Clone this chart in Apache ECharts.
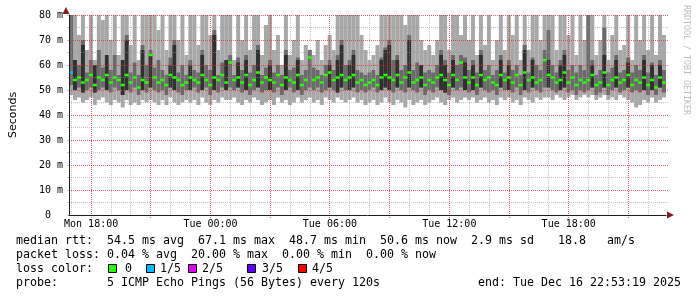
<!DOCTYPE html>
<html><head><meta charset="utf-8">
<script src="https://cdn.jsdelivr.net/npm/echarts@6/dist/echarts.min.js"></script>
<style>html,body{margin:0;padding:0;background:#fff}#c{width:697px;height:297px}</style>
</head><body><div id="c"></div>
<script>
// smoke: min ping, 2nd ping, 4th ping, max ping, dark core top (0 = none), median, loss (pings lost of 5)
const lo = [48,46,47,45,46,47,44,46,47,45, 44,46,45,43,46,44,45,44,46,45, 46,45,44,46,44,47,45,44,45,46, 45,46,44,47,45,44,46,45,47,46,
            46,47,45,44,46,45,47,46,44,45, 46,44,47,45,46,44,45,47,45,46, 47,45,46,44,47,46,45,47,46,45, 46,47,45,46,44,45,46,44,45,47,
            45,44,46,45,43,46,44,45,46,44, 45,46,47,45,44,46,47,45,46,47, 46,47,45,46,47,45,46,44,47,46, 47,45,46,44,47,46,45,47,46,47,
            47,46,48,47,46,47,48,46,47,48, 47,48,46,47,48,46,47,46,48,47, 46,45,43,44,46,45,47,45,46,47];
const p2 = [52,50,51,49,50,51,49,50,51,50, 49,51,50,48,50,49,51,48,50,49, 51,50,49,50,48,51,50,49,48,50, 50,51,49,50,51,48,50,49,51,50,
            51,50,51,49,50,48,50,51,49,50, 50,49,51,48,50,51,49,50,48,50, 51,50,51,49,50,51,50,49,51,50, 50,51,49,50,49,50,51,49,50,51,
            50,49,51,50,49,51,50,49,51,48, 50,49,51,50,49,48,51,50,51,50, 49,50,48,51,50,49,50,48,51,50, 50,49,51,48,50,49,51,50,49,51,
            51,50,49,50,51,49,50,48,50,49, 50,51,48,49,51,48,50,51,49,50, 51,49,50,49,50,48,50,48,51,49];
const p4 = [80,58,60,70,57,62,56,66,59,61, 58,64,56,60,72,57,61,56,68,60, 66,59,62,58,56,63,70,57,60,56, 62,58,57,66,60,58,74,56,61,59,
            64,56,63,58,64,57,60,68,56,59, 62,57,60,56,66,58,59,63,56,58, 66,59,58,56,60,62,58,64,70,60, 62,66,58,57,56,57,58,56,63,67,
            70,62,64,58,60,72,58,61,60,57, 58,57,60,66,62,57,64,60,64,63, 58,62,57,66,58,60,56,58,64,57, 62,58,60,56,68,57,63,60,58,66,
            74,60,57,62,66,58,60,57,60,58, 80,62,56,58,75,57,59,64,57,58, 63,57,60,58,64,57,61,56,62,58];
const hi = [80,80,72,80,66,80,62,80,78,80, 70,80,64,80,80,68,80,62,80,80, 80,80,74,80,66,80,80,70,80,64, 80,80,68,80,80,72,80,66,80,80,
            80,62,80,70,80,66,80,80,64,76, 80,66,72,60,80,64,70,80,62,68, 66,64,70,62,68,72,66,80,80,80, 80,80,80,72,66,62,64,68,80,80,
            80,80,80,80,76,80,80,80,70,66, 68,64,70,80,80,66,80,80,72,80, 70,80,64,80,68,80,62,70,80,66, 80,72,80,62,80,66,80,80,70,80,
            80,80,66,80,80,72,80,64,80,70, 80,80,64,70,80,62,72,80,66,68, 80,62,80,70,80,66,80,64,80,72];
const dk = [0,62,0,68,0,0,60,0,0,64, 0,0,0,62,70,0,0,0,66,0, 64,0,0,0,0,60,68,0,0,0, 60,0,0,64,0,0,72,0,0,62,
            0,0,61,0,62,0,0,66,0,0, 60,0,0,0,64,0,0,62,0,0, 0,0,0,0,0,60,0,62,68,0, 60,64,0,0,0,0,0,0,62,66,
            68,0,62,0,0,70,0,0,60,0, 0,0,0,64,60,0,62,0,0,61, 0,60,0,64,0,0,0,0,62,0, 60,0,0,0,66,0,62,0,0,0,
            62,0,0,60,64,0,0,0,0,0, 0,60,0,0,64,0,0,62,0,0, 61,0,0,0,62,0,60,0,60,0];
const med = [57,54,55,53,54,56,52,55,54,56, 53,55,54,52,56,53,55,51,54,53, 64,55,53,54,52,56,55,54,52,53, 55,54,53,56,54,52,55,54,56,53,
             61,54,55,53,56,52,54,57,53,55, 54,53,56,52,55,54,53,56,52,54, 63,54,55,53,56,57,54,55,56,54, 55,56,53,54,52,53,54,52,55,56,
             55,54,56,53,55,57,53,54,55,52, 54,53,55,56,54,52,56,54,61,55, 53,55,52,56,54,55,53,52,56,54, 55,53,56,52,57,54,55,53,54,62,
             56,55,53,54,57,53,55,52,54,53, 54,56,52,53,57,52,54,55,53,54, 56,52,54,53,55,52,54,51,55,53];
const loss = [1,0,0,0,0,0,0,0,0,0, 0,0,0,0,0,0,0,0,0,0, 0,0,0,0,0,0,0,0,0,0, 0,0,0,0,0,0,0,0,0,0,
              0,0,0,0,0,0,0,0,0,0, 0,0,0,0,0,0,0,0,0,0, 0,0,0,0,0,0,0,0,0,0, 0,0,0,0,0,0,0,0,0,0,
              0,0,0,0,0,0,0,0,0,0, 0,0,0,0,0,0,0,0,0,0, 0,0,0,0,0,0,0,0,0,0, 0,0,0,0,0,0,0,0,0,0,
              0,0,0,0,0,0,0,0,0,0, 0,0,0,0,0,0,0,0,0,0, 0,0,0,0,0,0,0,0,0,0];

const xLabelHours = [18, 24, 30, 36, 42];
const xLabels = ['Mon 18:00', 'Tue 00:00', 'Tue 06:00', 'Tue 12:00', 'Tue 18:00'];
const majorHours = [18, 21, 24, 27, 30, 33, 36, 39, 42, 45];
const minorHours = [17, 19, 20, 22, 23, 25, 26, 28, 29, 31, 32, 34, 35, 37, 38, 40, 41, 43, 44, 46];
const yMajor = [10, 20, 30, 40, 50, 60, 70, 80];
const yMinor = [5, 15, 25, 35, 45, 55, 65, 75];
const lossColors = ['#26ff00', '#00b8ff', '#dd00ff', '#5e00ff', '#ff0000'];
const lossLabels = ['0', '1/5', '2/5', '3/5', '4/5'];

const T0 = 16 + 53 / 60 + 19 / 3600;   // Mon 16:53:19, hours
const SPAN = 30;
const STEP = SPAN / hi.length;

const smokeData = hi.map((h, i) => [T0 + (i + 0.5) * STEP, lo[i], p2[i], p4[i], h, dk[i]]);
const medData = med.map((m, i) => [T0 + (i + 0.5) * STEP, m, loss[i]]);

const MONO = '"DejaVu Sans Mono", monospace';
const RED = 'rgba(225,45,45,0.75)';
const GREY = 'rgba(150,150,150,0.55)';
const AXIS = '#1f1f1f';
const ARROW = '#801f1f';

function smokeItem(params, api) {
  const t = api.value(0);
  const xl = api.coord([t - STEP / 2, 0])[0];
  const xr = api.coord([t + STEP / 2, 0])[0];
  const y = v => api.coord([t, v])[1];
  const band = (a, b, fill) => ({ type: 'rect', shape: { x: xl, y: y(b), width: xr - xl, height: y(a) - y(b) }, style: { fill } });
  const ch = [band(api.value(1), api.value(4), '#a8a8a8'), band(api.value(2), api.value(3), '#6a6a6a')];
  if (api.value(5) > 0) ch.push(band(api.value(2), api.value(5), '#303030'));
  return { type: 'group', children: ch };
}
function medItem(params, api) {
  const t = api.value(0), m = api.value(1);
  const xl = api.coord([t - STEP / 2, 0])[0];
  const xr = api.coord([t + STEP / 2, 0])[0];
  const yt = api.coord([t, m + 0.5])[1], yb = api.coord([t, m - 0.5])[1];
  return { type: 'rect', shape: { x: xl, y: yt, width: xr - xl, height: yb - yt }, style: { fill: lossColors[api.value(2)] } };
}
const hGrid = color => (params, api) => {
  const cs = params.coordSys;
  const y = Math.floor(api.coord([T0, api.value(0)])[1]) + 0.5;
  return { type: 'line', shape: { x1: cs.x, y1: y, x2: cs.x + cs.width + 2, y2: y },
           style: { stroke: color, lineWidth: 1, lineDash: [1, 1] } };
};
const vGrid = (color, ext) => (params, api) => {
  const cs = params.coordSys;
  const x = Math.floor(api.coord([api.value(0), 0])[0]) + 0.5;
  return { type: 'line', shape: { x1: x, y1: cs.y, x2: x, y2: cs.y + cs.height + ext },
           style: { stroke: color, lineWidth: 1, lineDash: [1, 1] } };
};

const textLine = (x, y, s) => ({ type: 'text', x, y, style: { text: s, font: '11.63px ' + MONO, fill: '#000', verticalAlign: 'middle', align: 'left' } });
const swX = [108, 146, 188, 247, 298];
const swLabelX = [125, 160, 202, 262, 312];
const graphics = [
  textLine(16, 241, 'median rtt:  54.5 ms avg  67.1 ms max  48.7 ms min  50.6 ms now  2.9 ms sd'),
  textLine(558, 241, '18.8   am/s'),
  textLine(16, 255, 'packet loss: 0.04 % avg  20.00 % max  0.00 % min  0.00 % now'),
  textLine(16, 269, 'loss color:'),
  textLine(16, 283, 'probe:       5 ICMP Echo Pings (56 Bytes) every 120s'),
  textLine(478, 283, 'end: Tue Dec 16 22:53:19 2025'),
  { type: 'text', x: 686, y: 5, rotation: -Math.PI / 2,
    style: { text: 'RRDTOOL / TOBI OETIKER', font: '8.3px ' + MONO, fill: '#bdbdbd', align: 'left', verticalAlign: 'middle' } },
  { type: 'polygon', shape: { points: [[667, 211.5], [667, 218.5], [674, 215]] }, style: { fill: ARROW }, z: 100 },
  { type: 'polygon', shape: { points: [[62.5, 14], [69.5, 14], [66, 7]] }, style: { fill: ARROW }, z: 100 }
];
lossLabels.forEach((lab, k) => {
  graphics.push({ type: 'rect', shape: { x: swX[k] + 0.5, y: 264.5, width: 8, height: 8 }, style: { fill: lossColors[k], stroke: '#000', lineWidth: 1 } });
  graphics.push(textLine(swLabelX[k], 269, lab));
});

const chart = echarts.init(document.getElementById('c'), null, { renderer: 'canvas' });
chart.setOption({
  animation: false,
  backgroundColor: '#fff',
  grid: { left: 66, top: 15, width: 600, height: 200, containLabel: false },
  xAxis: {
    type: 'value', min: T0, max: T0 + SPAN, z: 8,
    axisLine: { show: true, lineStyle: { color: AXIS, width: 1 } },
    axisTick: { show: false },
    axisLabel: { show: true, customValues: xLabelHours, margin: 4, fontFamily: MONO, fontSize: 10, color: '#000',
      formatter: v => xLabels[xLabelHours.indexOf(Math.round(v))] || '' },
    splitLine: { show: false }
  },
  yAxis: {
    type: 'value', min: 0, max: 80, interval: 10, z: 8,
    name: 'Seconds', nameLocation: 'middle', nameGap: 50, nameRotate: 90,
    nameTextStyle: { fontFamily: '"DejaVu Sans", sans-serif', fontSize: 11, color: '#000' },
    axisLine: { show: true, lineStyle: { color: AXIS, width: 1 } },
    axisTick: { show: true, length: 2, lineStyle: { color: GREY } },
    minorTick: { show: true, splitNumber: 2, length: 2, lineStyle: { color: GREY } },
    axisLabel: { margin: 6, fontFamily: MONO, fontSize: 10, color: '#000', formatter: v => v === 0 ? '0  ' : v + ' m' },
    splitLine: { show: false }
  },
  series: [
    { type: 'custom', name: 'smoke', renderItem: smokeItem, data: smokeData, encode: { x: 0, y: [1, 4] }, clip: true, z: 2, silent: true },
    { type: 'custom', name: 'hMinor', renderItem: hGrid(GREY), data: yMinor.map(v => [v]), encode: { y: 0 }, z: 4, silent: true },
    { type: 'custom', name: 'vMinor', renderItem: vGrid(GREY, 0), data: minorHours.map(h => [h]), encode: { x: 0 }, z: 4, silent: true },
    { type: 'custom', name: 'hMajor', renderItem: hGrid(RED), data: yMajor.map(v => [v]), encode: { y: 0 }, z: 5, silent: true },
    { type: 'custom', name: 'vMajor', renderItem: vGrid(RED, 3), data: majorHours.map(h => [h]), encode: { x: 0 }, z: 5, silent: true },
    { type: 'custom', name: 'median', renderItem: medItem, data: medData, encode: { x: 0, y: 1 }, clip: true, z: 6, silent: true }
  ],
  graphic: graphics
});
</script></body></html>
